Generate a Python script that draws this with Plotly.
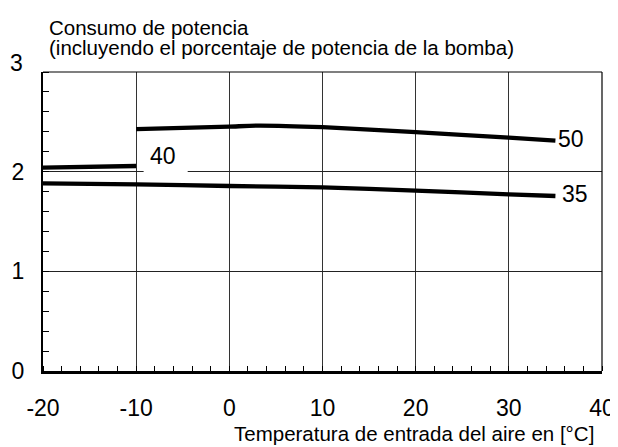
import plotly.graph_objects as go

# Data
temp_35 = [-20, -10, 0, 10, 20, 30, 35]
power_35 = [1.883, 1.873, 1.856, 1.843, 1.81, 1.773, 1.756]
temp_40 = [-20, -10]
power_40 = [2.041, 2.057]
temp_50 = [-10, 0, 3, 10, 20, 30, 35]
power_50 = [2.426, 2.452, 2.462, 2.446, 2.396, 2.342, 2.312]

x_ticks = [-20, -10, 0, 10, 20, 30, 40]
x_tick_text = ["-20", "-10", "0", "10", "20", "30", "40"]
y_ticks = [0, 1, 2]
y_tick_text = ["0", "1", "2"]

FONT = "Arial, Liberation Sans, sans-serif"
TICK_FONT = dict(size=23, family=FONT, color="black")
TITLE_FONT = dict(size=20.5, family=FONT, color="black")

fig = go.Figure()
for xs, ys in [(temp_35, power_35), (temp_40, power_40), (temp_50, power_50)]:
    fig.add_trace(go.Scatter(x=xs, y=ys, mode="lines",
                             line=dict(color="black", width=4.3, shape="spline", smoothing=0.6),
                             showlegend=False, hoverinfo="skip"))

# The page body has an 8px margin; the figure is sized so it fills the 618x447 window.
fig.update_layout(
    width=610, height=439,
    margin=dict(l=35, r=16, t=64, b=76),
    paper_bgcolor="white", plot_bgcolor="white",
    font=dict(family=FONT, color="black"),
    xaxis=dict(range=[-20, 40], tickvals=x_ticks, ticktext=x_tick_text, automargin=False,
               showgrid=True, gridcolor="#333", gridwidth=1,
               zeroline=False, showline=True, linecolor="black", linewidth=2.5,
               ticks="", tickfont=TICK_FONT, ticklabelstandoff=15,
               minor=dict(dtick=2, ticks="inside", ticklen=5, tickcolor="black", tickwidth=1, showgrid=False)),
    yaxis=dict(range=[0, 3], tickvals=y_ticks, ticktext=y_tick_text, automargin=False,
               showgrid=True, gridcolor="#222", gridwidth=1,
               zeroline=False, showline=True, linecolor="black", linewidth=2,
               ticks="", tickfont=TICK_FONT, ticklabelstandoff=12,
               minor=dict(dtick=0.2, ticks="inside", ticklen=6, tickcolor="black", tickwidth=1, showgrid=False)),
)

# top and right frame lines
fig.add_shape(type="line", xref="paper", yref="paper", x0=0, x1=1, y0=1, y1=1,
              line=dict(color="black", width=1.2))
fig.add_shape(type="line", xref="paper", yref="paper", x0=1, x1=1, y0=0, y1=1,
              line=dict(color="black", width=1.2))
# white box behind the "40" label
fig.add_shape(type="rect", xref="x", yref="y", x0=-9.2, x1=-4.47, y0=1.97, y1=2.32,
              fillcolor="white", line=dict(width=0), layer="above")

# "3" y tick label (drawn slightly above its gridline as in the reference)
fig.add_annotation(x=0, xref="paper", y=3, yref="y", text="3", showarrow=False,
                   xanchor="right", yanchor="middle", xshift=-18, yshift=9, font=TICK_FONT)

# curve labels
fig.add_annotation(x=35, y=power_50[-1], text="50", showarrow=False, xanchor="left",
                   xshift=1, yshift=2, font=TICK_FONT)
fig.add_annotation(x=35, y=power_35[-1], text="35", showarrow=False, xanchor="left",
                   xshift=5, yshift=2, font=TICK_FONT)
fig.add_annotation(x=-7.16, y=2.158, text="40", showarrow=False, xanchor="center", font=TICK_FONT)

# titles
fig.add_annotation(x=0, xref="paper", y=1, yref="paper", text="Consumo de potencia",
                   showarrow=False, xanchor="left", yanchor="middle", xshift=4, yshift=45,
                   font=TITLE_FONT)
fig.add_annotation(x=0, xref="paper", y=1, yref="paper",
                   text="(incluyendo el porcentaje de potencia de la bomba)",
                   showarrow=False, xanchor="left", yanchor="middle", xshift=4, yshift=25,
                   font=TITLE_FONT)
fig.add_annotation(x=1, xref="paper", y=0, yref="paper",
                   text="Temperatura de entrada del aire en [°C]",
                   showarrow=False, xanchor="right", yanchor="middle", xshift=-6, yshift=-62,
                   font=TITLE_FONT)

fig.write_html("out.html")
